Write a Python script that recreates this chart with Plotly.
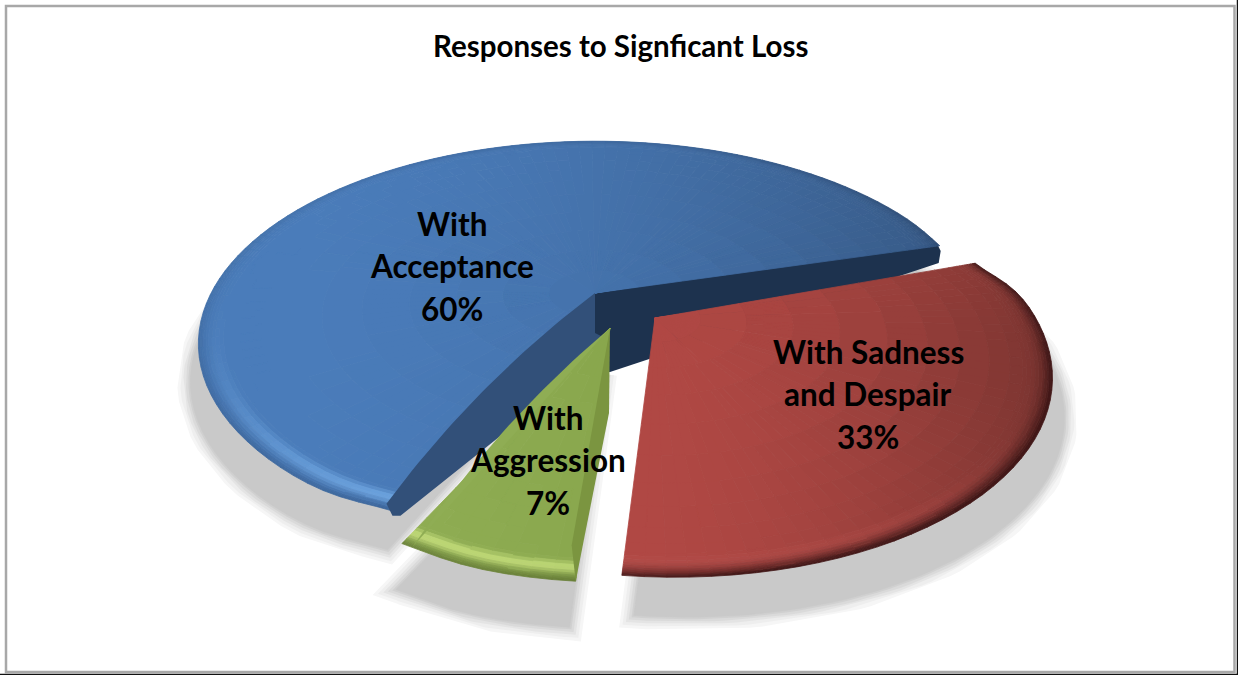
import math
from collections import defaultdict
import numpy as np
import plotly.graph_objects as go

# ---- data ----
title = "Responses to Signficant Loss"
categories = ["With Acceptance", "With Aggression", "With Sadness and Despair"]
values = [60, 7, 33]
label_lines = [["With", "Acceptance"], ["With", "Aggression"], ["With Sadness", "and Despair"]]

# ---- view of the tilted pie (perspective model, in pixels) ----
CX, CY, RX, RY, K = 595, 293, 382, 189, 0.25
view_start = [15.5, 243.0, 264.0]
sweep_scale = [1.066, 0.89, 0.962]
explode = [(0, 0), (0.0375, 0.177), (0.152, 0.128)]
radius = [1.005, 0.93, 0.965]
corner = [(0.02, 0.006), (0.0, 0.012), (0.035, 0.0)]   # softening at the (end, start) corner of each slice
label_xy = [(452, 266), (548, 460), (868, 394)]
shadow_shift = [(-8, 38), (-6, 46), (12, 40)]
grad_x = [(280, 960), (400, 620), (640, 1050)]
base_l = [(74, 124, 186), (142, 172, 82), (176, 72, 68)]
base_r = [(54, 88, 132), (136, 166, 76), (122, 52, 48)]
hl_col = [(112, 168, 228), (196, 222, 122), (182, 78, 74)]
hl_pow = [4, 2, 2]
dk_col = [(34, 58, 92), (92, 112, 48), (66, 24, 24)]
edge_k = [0.4, 0.85, 1.0]
RIM = 0.07


def proj(x, y):
    s = 1 / (1 - K * y)
    return CX + RX * x * s, CY + RY * y * s


sweeps = [v / sum(values) * 360 * s for v, s in zip(values, sweep_scale)]


def point(i, r, deg):
    a = math.radians(deg)
    d0 = deg - view_start[i]
    d1 = view_start[i] + sweeps[i] - deg
    soft = 1 - corner[i][0] * math.exp(-(d1 / 7) ** 2) - corner[i][1] * math.exp(-(d0 / 7) ** 2)
    rr = radius[i] * r * (1 - (1 - soft) * r ** 4)
    return proj(explode[i][0] + rr * math.cos(a), explode[i][1] - rr * math.sin(a))


def lerp(a, b, t):
    return tuple(p + (q - p) * t for p, q in zip(a, b))


def shade(i, r, deg, px):
    u = min(max((px - grad_x[i][0]) / (grad_x[i][1] - grad_x[i][0]), 0), 1)
    c = lerp(base_l[i], base_r[i], u ** 1.7)
    t = (r - (1 - RIM)) / RIM
    if t > 0:
        a = math.radians(deg)
        nx, ny = math.cos(a), -math.sin(a)
        light = max(-0.3 * nx + 0.95 * ny, 0) ** hl_pow[i]
        c = lerp(c, hl_col[i], light * math.sin(math.pi * min(t / 0.9, 1)) ** 2)
        c = lerp(c, dk_col[i], min(1, edge_k[i] * t ** 3 * (0.45 + 0.7 * max(nx + 0.2 * ny, 0) + 0.4 * max(ny, 0))))
    return "rgb(%d,%d,%d)" % tuple(int(round(v)) for v in c)


fig = go.Figure()


def poly(xs, ys, color, width=0.0):
    fig.add_trace(go.Scatter(x=xs, y=ys, mode="lines", fill="toself", fillcolor=color,
                             line=dict(color=color, width=width), hoverinfo="skip", showlegend=False))


def outline(i):
    arc = np.linspace(view_start[i], view_start[i] + sweeps[i], 80)
    pts = [point(i, 0, 0)] + [point(i, 1, d) for d in arc]
    return [p[0] for p in pts] + [pts[0][0]], [p[1] for p in pts] + [pts[0][1]]


def bezier(p0, p1, bow_x, bow_y, n=30):
    c = ((p0[0] + p1[0]) / 2 + bow_x, (p0[1] + p1[1]) / 2 + bow_y)
    tt = np.linspace(0, 1, n)
    return ([(1 - t) ** 2 * p0[0] + 2 * t * (1 - t) * c[0] + t * t * p1[0] for t in tt],
            [(1 - t) ** 2 * p0[1] + 2 * t * (1 - t) * c[1] + t * t * p1[1] for t in tt])


# soft shadows: opaque greys from wide and pale to narrow and dark
for w, col in [(26, "#f6f6f6"), (20, "#eeeeee"), (14, "#e4e4e4"), (9, "#dadada"), (4, "#d0d0d0"), (0.5, "#c9c9c9")]:
    for i in range(3):
        xs, ys = outline(i)
        poly([x + shadow_shift[i][0] for x in xs], [y + shadow_shift[i][1] for y in ys], col, w)


def draw_surface(i):
    bands = [0, 0.12, 0.24, 0.36, 0.48, 0.6, 0.7, 0.78, 0.85, 0.9, 0.93, 0.94, 0.95, 0.96, 0.968,
             0.976, 0.982, 0.988, 0.992, 0.996, 1.0]
    n = max(6, int(sweeps[i] / 2.5))
    degs = np.linspace(view_start[i], view_start[i] + sweeps[i], n + 1)
    groups = defaultdict(lambda: ([], []))
    for a0, a1 in zip(degs[:-1], degs[1:]):
        for r0, r1 in zip(bands[:-1], bands[1:]):
            q = [point(i, r0, a0), point(i, r1, a0), point(i, r1, a1), point(i, r0, a1)]
            mx = sum(p[0] for p in q) / 4
            col = shade(i, (r0 + r1) / 2, (a0 + a1) / 2, mx)
            g = groups[col]
            g[0].extend([p[0] for p in q] + [q[0][0], None])
            g[1].extend([p[1] for p in q] + [q[0][1], None])
    for col, (xs, ys) in groups.items():
        poly(xs, ys, col, 0.8)


# blue: dark cut face behind, then surface, then the front cut face
A = point(0, 0, 0)
S = point(0, 1, view_start[0] + 1)
E = point(0, 1, view_start[0] + sweeps[0] - 1)
poly([A[0], S[0], S[0] + 4, S[0] + 2, A[0] + 15, A[0], A[0]],
     [A[1], S[1], S[1] + 8, S[1] + 20, A[1] + 79, A[1] + 79, A[1]], "#1d324e")
draw_surface(0)
bx, by = bezier(A, (E[0] - 2, E[1] - 6), -14, -16)
poly(bx + [E[0] + 4, E[0] + 12, (A[0] + E[0]) / 2 + 22, A[0] + 8, A[0], A[0]],
     by + [E[1] + 6, E[1] + 6, (A[1] + E[1]) / 2 + 24, A[1] + 44, A[1] + 40, A[1]], "#325079")

# red, then green with its curved edge and cut face
draw_surface(2)
draw_surface(1)
G = point(1, 0, 0)
GL = point(1, 1, view_start[1] + 1.5)
GE = point(1, 1, view_start[1] + sweeps[1])
gx, gy = bezier(G, GL, -12, -16)
poly(gx, gy, "#8fad54")
poly([G[0], G[0] - 1, GE[0], GE[0] - 4, G[0]],
     [G[1], G[1] + 85, GE[1], GE[1] - 36, G[1]], "#7b9540")

# frame
shapes = [
    dict(type="rect", x0=6, y0=6, x1=1234.5, y1=672, line=dict(color="#a8a8a8", width=2.5), fillcolor="rgba(0,0,0,0)"),
    dict(type="line", x0=1237.5, y0=0, x1=1237.5, y1=675, line=dict(color="#111111", width=1.5)),
    dict(type="line", x0=0, y0=674.5, x1=1238, y1=674.5, line=dict(color="#111111", width=1.5)),
]

# labels
annotations = [dict(x=620, y=45.5, text="<b>%s</b>" % title, showarrow=False, xanchor="center", yanchor="middle",
                    font=dict(family="Lato", size=29.5, color="#000000"))]
for i, lines in enumerate(label_lines):
    rows = lines + ["%d%%" % values[i]]
    for j, row in enumerate(rows):
        annotations.append(dict(x=label_xy[i][0], y=label_xy[i][1] + (j - 1) * 42.5,
                                text="<b>%s</b>" % row, showarrow=False,
                                xanchor="center", yanchor="middle",
                                font=dict(family="Lato", size=31.5, color="#000000")))

fig.update_layout(
    width=1238, height=675, margin=dict(l=0, r=0, t=0, b=0),
    paper_bgcolor="white", plot_bgcolor="white", showlegend=False,
    xaxis=dict(range=[0, 1238], visible=False, fixedrange=True),
    yaxis=dict(range=[675, 0], visible=False, fixedrange=True),
    shapes=shapes, annotations=annotations,
)
fig.write_html("out.html", config={"displayModeBar": False},
               post_script="document.body.style.margin='0';document.body.style.overflow='hidden';")
